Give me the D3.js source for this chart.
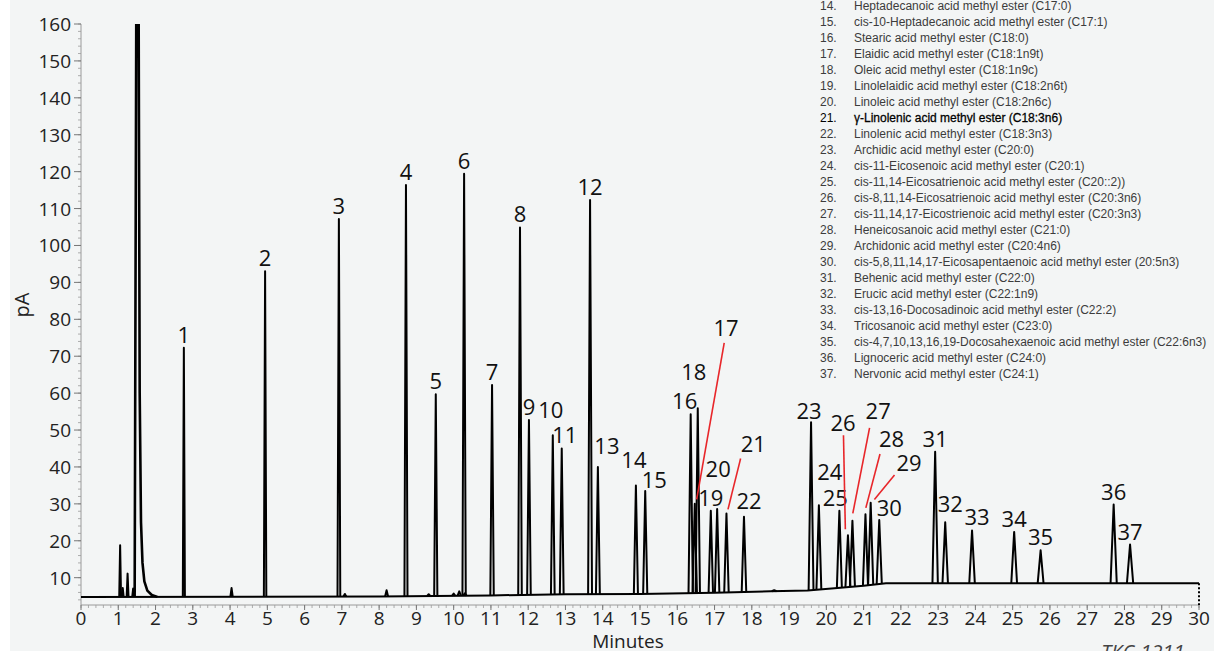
<!DOCTYPE html>
<html>
<head>
<meta charset="utf-8">
<script src="https://cdn.jsdelivr.net/npm/d3@7"></script>
<style>
  body { margin: 0; background: #fff; }
  svg { display: block; }
</style>
</head>
<body>
<svg id="canvas" width="1214" height="651"></svg>
<script>
// retention times (min) and peak heights (pA) of the 37 FAMEs
const peakIds = d3.range(1, 38);
const peakTimes = [2.76, 4.94, 6.92, 8.72, 9.52, 10.28, 11.03, 11.78, 12.02, 12.66, 12.90, 13.66, 13.87,
  14.89, 15.14, 16.36, 16.47, 16.55, 16.90, 17.07, 17.32, 17.79, 19.59, 19.80, 20.35, 20.58, 20.70,
  21.05, 21.19, 21.42, 22.92, 23.19, 23.91, 25.04, 25.75, 27.71, 28.15];
const peakHeights = [72.3, 93, 107.2, 116.4, 59.7, 119.4, 62.2, 104.9, 52.7, 48.6, 45, 112.3, 40,
  35, 33.5, 54.3, 30, 55.9, 28.1, 28.6, 27.4, 26.5, 52.1, 29.6, 28.1, 21.5, 25.4,
  27.2, 30.3, 25.6, 44.1, 25, 22.8, 22.4, 17.4, 29.8, 19];

// small unlabeled peaks
const minorTimes = [1.05, 1.12, 1.25, 1.40, 4.04, 7.08, 8.20, 9.33, 10.0, 10.15, 10.30, 18.6];
const minorHeights = [18.8, 7.2, 11.1, 7.1, 7.2, 5.6, 6.6, 5.5, 5.7, 6.3, 5.8, 6.6];

// solvent front
const solventT = [1.44, 1.485, 1.545, 1.575, 1.61, 1.65, 1.70, 1.78, 1.90, 2.05];
const solventV = [4.8, 170, 170, 60, 25, 14, 9, 6.5, 5.3, 4.8];

// drifting baseline
const baseT = [0, 8, 11, 13, 15, 17, 18.5, 19.5, 20.3, 21, 21.6, 25, 30];
const baseV = [4.8, 4.9, 5.2, 5.5, 5.6, 5.9, 6.3, 6.5, 7.2, 7.8, 8.5, 8.5, 8.5];

const xTicks = d3.range(0, 31);
const yTicks = d3.range(10, 161, 10);

const legendIds = d3.range(14, 38);
const legendNames = [
  "Heptadecanoic acid methyl ester (C17:0)",
  "cis-10-Heptadecanoic acid methyl ester (C17:1)",
  "Stearic acid methyl ester (C18:0)",
  "Elaidic acid methyl ester (C18:1n9t)",
  "Oleic acid methyl ester (C18:1n9c)",
  "Linolelaidic acid methyl ester (C18:2n6t)",
  "Linoleic acid methyl ester (C18:2n6c)",
  "γ-Linolenic acid methyl ester (C18:3n6)",
  "Linolenic acid methyl ester (C18:3n3)",
  "Archidic acid methyl ester (C20:0)",
  "cis-11-Eicosenoic acid methyl ester (C20:1)",
  "cis-11,14-Eicosatrienoic acid methyl ester (C20::2))",
  "cis-8,11,14-Eicosatrienoic acid methyl ester (C20:3n6)",
  "cis-11,14,17-Eicostrienoic acid methyl ester (C20:3n3)",
  "Heneicosanoic acid methyl ester (C21:0)",
  "Archidonic acid methyl ester (C20:4n6)",
  "cis-5,8,11,14,17-Eicosapentaenoic acid methyl ester (20:5n3)",
  "Behenic acid methyl ester (C22:0)",
  "Erucic acid methyl ester (C22:1n9)",
  "cis-13,16-Docosadinoic acid methyl ester (C22:2)",
  "Tricosanoic acid methyl ester (C23:0)",
  "cis-4,7,10,13,16,19-Docosahexaenoic acid methyl ester (C22:6n3)",
  "Lignoceric acid methyl ester (C24:0)",
  "Nervonic acid methyl ester (C24:1)"
];

// labels with red leader lines: label (t, v), line start (t, v), line end (t, v)
const leaderIds = [17, 21, 26, 27, 28, 29];
const leaderLabel = [[17.31, 75.4], [18.04, 44.1], [20.45, 49.8], [21.39, 52.9], [21.75, 45.4], [22.22, 38.9]];
const leaderFrom = [[17.26, 73.6], [17.70, 42.3], [20.46, 48.6], [21.16, 50.6], [21.44, 43.5], [21.83, 37.8]];
const leaderTo = [[16.52, 31.2], [17.36, 28.5], [20.51, 23.1], [20.71, 27.4], [21.06, 28.9], [21.29, 31.2]];

// pixel nudges for crowded labels
const labelNudge = {
  10: [-2, -12], 11: [3, 0], 13: [9, -8], 14: [-2, -12], 15: [9, 2], 16: [-6, 0],
  18: [-4, -23], 20: [1, -27], 22: [5, -3], 23: [-2, 2], 24: [11, -20], 25: [-4, 0],
  30: [10, 1], 32: [5, -5], 33: [5, 0], 37: [0, 1]
};

let canvas = d3.select("#canvas");
const W = 1214, H = 651;

canvas.append("rect").attr("x", 10).attr("y", 0).attr("width", W - 10).attr("height", H).attr("fill", "#f3f5f5");

let x = d3.scaleLinear().domain([0, 30]).range([81, 1199]);
let y = d3.scaleLinear().domain([2.6, 160]).range([605, 24]);
let base = d3.scaleLinear().domain(baseT).range(baseV);

const font = "'Open Sans', 'DejaVu Sans', sans-serif";

// axes
let xAxis = canvas.append("g").attr("transform", "translate(0,605)");
xAxis.append("line").attr("x1", x(0)).attr("x2", x(30)).attr("stroke", "#9a9a9a").attr("stroke-width", 1);
xAxis.selectAll(".minor").data(d3.range(0, 30.01, 0.2)).enter().append("line")
  .attr("x1", d => x(d)).attr("x2", d => x(d)).attr("y1", 0).attr("y2", 3)
  .attr("stroke", "#9a9a9a").attr("stroke-width", 0.8);
xAxis.selectAll(".major").data(xTicks).enter().append("line")
  .attr("x1", d => x(d)).attr("x2", d => x(d)).attr("y1", 0).attr("y2", 5)
  .attr("stroke", "#777").attr("stroke-width", 1);
xAxis.selectAll("text").data(xTicks).enter().append("text")
  .attr("x", d => x(d)).attr("y", 20).attr("text-anchor", "middle")
  .attr("font-family", font).attr("font-size", 19).attr("fill", "#222").text(d => d);

let yAxis = canvas.append("g").attr("transform", "translate(81,0)");
yAxis.append("line").attr("y1", y(2.6)).attr("y2", y(160)).attr("stroke", "#9a9a9a").attr("stroke-width", 1);
yAxis.selectAll(".minor").data(d3.range(4, 160.01, 2)).enter().append("line")
  .attr("y1", d => y(d)).attr("y2", d => y(d)).attr("x1", 0).attr("x2", -3)
  .attr("stroke", "#9a9a9a").attr("stroke-width", 0.8);
yAxis.selectAll(".major").data(yTicks).enter().append("line")
  .attr("y1", d => y(d)).attr("y2", d => y(d)).attr("x1", 0).attr("x2", -7)
  .attr("stroke", "#777").attr("stroke-width", 1);
yAxis.selectAll("text").data(yTicks).enter().append("text")
  .attr("x", -10).attr("y", d => y(d) + 7).attr("text-anchor", "end")
  .attr("font-family", font).attr("font-size", 19).attr("fill", "#222").text(d => d);

canvas.append("text").attr("x", 628).attr("y", 648).attr("text-anchor", "middle")
  .attr("font-family", font).attr("font-size", 19).attr("fill", "#222").text("Minutes");
canvas.append("text").attr("transform", "translate(29,305) rotate(-90)").attr("text-anchor", "middle")
  .attr("font-family", font).attr("font-size", 20).attr("fill", "#222").text("pA");

// trace
canvas.append("clipPath").attr("id", "plotClip").append("rect")
  .attr("x", 0).attr("y", y(160)).attr("width", W).attr("height", H);
let trace = canvas.append("g").attr("clip-path", "url(#plotClip)");

let line = d3.line().x(d => x(d[0])).y(d => y(d[1]));

trace.append("path")
  .attr("d", line(baseT.map((t, i) => [t, baseV[i]])))
  .attr("fill", "none").attr("stroke", "#000").attr("stroke-width", 2);

let peakShape = (t, h) => {
  let b = base(t);
  let hw = 0.022 + 0.0022 * t;
  return [[t - hw, b], [t, h], [t + hw, b]];
};

let allPeaks = peakTimes.map((t, i) => [t, peakHeights[i]])
  .concat(minorTimes.map((t, i) => [t, minorHeights[i]]));

trace.selectAll(".peak").data(allPeaks).enter().append("path")
  .attr("class", "peak")
  .attr("d", d => line(peakShape(d[0], d[1])))
  .attr("fill", "none").attr("stroke", "#000").attr("stroke-width", 2)
  .attr("stroke-linejoin", "round");

trace.append("path")
  .attr("d", line(solventT.map((t, i) => [t, solventV[i]])))
  .attr("fill", "none").attr("stroke", "#000").attr("stroke-width", 2.6).attr("stroke-linejoin", "round");

// end-of-run marker
canvas.append("line").attr("x1", x(30)).attr("x2", x(30)).attr("y1", y(base(30))).attr("y2", 605)
  .attr("stroke", "#000").attr("stroke-width", 2).attr("stroke-dasharray", "2,2");

// peak labels
let plain = peakIds.filter(id => !leaderIds.includes(id));
canvas.selectAll(".plabel").data(plain).enter().append("text")
  .attr("class", "plabel")
  .attr("x", id => x(peakTimes[id - 1]) + (labelNudge[id] ? labelNudge[id][0] : 0))
  .attr("y", id => y(peakHeights[id - 1]) - 5 + (labelNudge[id] ? labelNudge[id][1] : 0))
  .attr("text-anchor", "middle").attr("font-family", font).attr("font-size", 22).attr("fill", "#111")
  .text(id => id);

leaderIds.forEach((id, i) => {
  canvas.append("line")
    .attr("x1", x(leaderFrom[i][0])).attr("y1", y(leaderFrom[i][1]))
    .attr("x2", x(leaderTo[i][0])).attr("y2", y(leaderTo[i][1]))
    .attr("stroke", "#e8262a").attr("stroke-width", 1.6);
  canvas.append("text")
    .attr("x", x(leaderLabel[i][0])).attr("y", y(leaderLabel[i][1]))
    .attr("text-anchor", "middle").attr("font-family", font).attr("font-size", 22).attr("fill", "#111")
    .text(id);
});

// legend (rows 1-13 run off the top of the picture)
let legend = canvas.append("g").attr("font-family", "'Liberation Sans', Arial, sans-serif")
  .attr("font-size", 13.5);
legendIds.forEach((id, i) => {
  let yy = 9.5 + i * 16;
  let col = id === 21 ? "#000" : "#3c3c3c";
  legend.append("text").attr("transform", `translate(820,${yy}) scale(0.89,1)`).attr("fill", col).text(id + ".");
  legend.append("text").attr("transform", `translate(854,${yy}) scale(0.89,1)`).attr("fill", col)
    .attr("stroke", id === 21 ? "#000" : "none").attr("stroke-width", 0.3)
    .text(legendNames[i]);
});

canvas.append("text").attr("x", 1143).attr("y", 659).attr("text-anchor", "middle")
  .attr("font-family", font).attr("font-style", "italic").attr("font-size", 20).attr("fill", "#444")
  .text("TKC-1211");
</script>
</body>
</html>
